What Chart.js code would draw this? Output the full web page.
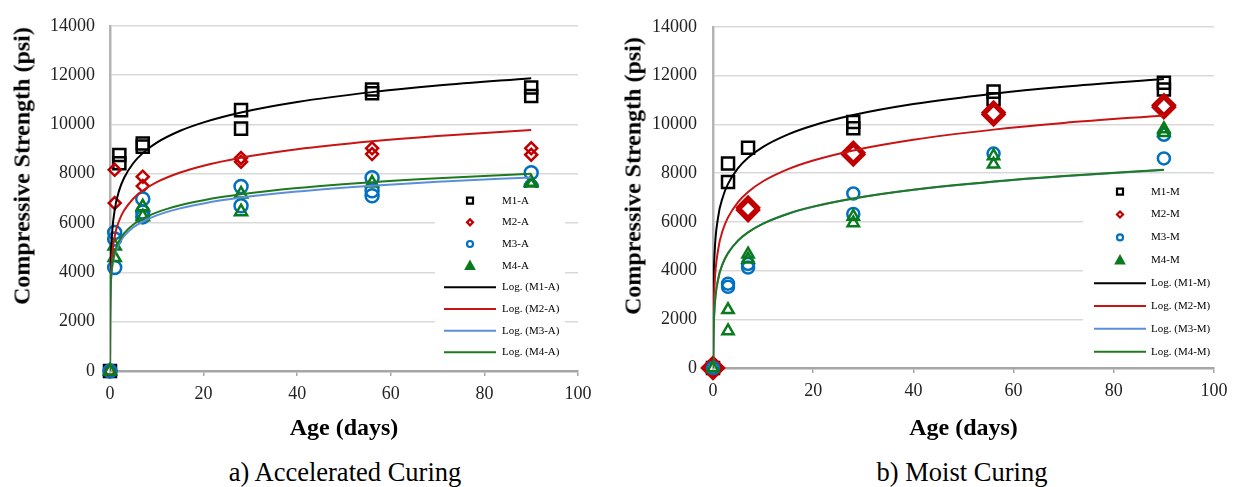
<!DOCTYPE html>
<html>
<head>
<meta charset="utf-8">
<script src="https://cdn.jsdelivr.net/npm/chart.js@4.4.1/dist/chart.umd.min.js"></script>
<style>
  body { margin: 0; background: #fff; }
  #wrap { position: relative; width: 1238px; height: 487px; font-family: 'Liberation Serif', 'Times New Roman', serif; color: #000; }
  canvas { position: absolute; top: 0; }
  .ytitle { position: absolute; transform: translate(-50%, -50%) rotate(-90deg); white-space: nowrap; font-weight: bold; font-size: 24px; }
  .caption { position: absolute; transform: translateX(-50%); white-space: nowrap; font-size: 26.5px; line-height: 30px; top: 457px; }
</style>
</head>
<body>
<div id="wrap">
  <canvas id="chartA" width="605" height="445" style="left:0"></canvas>
  <canvas id="chartM" width="628" height="445" style="left:610px"></canvas>
  <div class="ytitle" style="left:22px; top:166px">Compressive Strength (psi)</div>
  <div class="ytitle" style="left:633px; top:176px">Compressive Strength (psi)</div>
  <div class="caption" style="left:345px">a) Accelerated Curing</div>
  <div class="caption" style="left:962px">b) Moist Curing</div>
</div>
<script>
// ---- accelerated curing: measured points ----
const ageM1A = [0, 2, 2, 7, 7, 28, 28, 56, 56, 90, 90];
const m1A = [0, 8760, 8430, 9230, 9100, 10580, 9830, 11420, 11260, 11500, 11150];
const ageM2A = [0, 1, 1, 7, 7, 28, 28, 56, 56, 90, 90];
const m2A = [0, 8160, 6810, 7880, 7500, 8640, 8490, 9030, 8800, 9030, 8770];
const ageM3A = [0, 1, 1, 1, 7, 7, 7, 28, 28, 56, 56, 56, 90, 90];
const m3A = [0, 5620, 5350, 4200, 6980, 6450, 6250, 7480, 6700, 7840, 7310, 7110, 8040, 7480];
const ageM4A = [0, 1, 1, 7, 7, 28, 28, 56, 90, 90];
const m4A = [0, 5070, 4600, 6660, 6260, 7180, 6460, 7620, 7650, 7540];

// ---- accelerated curing: log trendlines ----
const trendAgeA = [0, 0.005, 0.02, 0.1, 0.3, 1, 2, 3, 5, 7, 10, 15, 20, 28, 40, 56, 70, 90];
const logM1A = [0, 215, 1865, 3779, 5087, 6520, 7345, 7828, 8435, 8836, 9261, 9742, 10085, 10485, 10910, 11310, 11575, 11875];
const logM2A = [0, 364, 1694, 3239, 4294, 5450, 6115, 6505, 6995, 7318, 7661, 8050, 8326, 8649, 8991, 9314, 9528, 9770];
const logM3A = [0, 991, 1962, 3088, 3857, 4700, 5185, 5469, 5827, 6062, 6312, 6596, 6797, 7032, 7282, 7518, 7674, 7850];
const logM4A = [0, 1038, 2022, 3165, 3945, 4800, 5292, 5580, 5942, 6182, 6435, 6723, 6927, 7166, 7419, 7658, 7816, 7995];

// ---- moist curing: measured points ----
const ageM1M = [0, 3, 3, 7, 28, 28, 56, 56, 90, 90];
const m1M = [0, 8390, 7630, 9040, 10090, 9840, 11340, 11030, 11700, 11430];
const ageM2M = [0, 7, 7, 28, 28, 56, 56, 90, 90];
const m2M = [0, 6580, 6480, 8830, 8760, 10480, 10400, 10780, 10700];
const ageM3M = [0, 3, 3, 7, 7, 28, 28, 56, 90, 90];
const m3M = [0, 3460, 3330, 4270, 4120, 7160, 6320, 8800, 9570, 8600];
const ageM4M = [0, 3, 3, 7, 7, 28, 28, 56, 56, 90, 90];
const m4M = [0, 2390, 1520, 4670, 4460, 6220, 5950, 8700, 8360, 9810, 9650];

// ---- moist curing: log trendlines ----
const trendAgeM = [0, 0.03, 0.1, 0.3, 1, 2, 3, 5, 7, 10, 15, 20, 28, 40, 56, 70, 90];
const logM1M = [0, 1727, 3250, 4640, 6163, 7040, 7553, 8199, 8625, 9076, 9589, 9953, 10378, 10829, 11255, 11537, 11856];
const logM2M = [0, 516, 1997, 3349, 4830, 5682, 6182, 6809, 7224, 7663, 8161, 8515, 8928, 9367, 9781, 10055, 10365];
const logM3M = [0, 115, 1319, 2418, 3622, 4315, 4721, 5231, 5568, 5925, 6330, 6618, 6954, 7311, 7647, 7870, 8122];
const logM4M = [0, 85, 1296, 2400, 3610, 4307, 4714, 5227, 5566, 5924, 6332, 6621, 6959, 7317, 7655, 7879, 8132];

const yTicks = [0, 2000, 4000, 6000, 8000, 10000, 12000, 14000];
const xTicks = [0, 20, 40, 60, 80, 100];

const FONT = "'Liberation Serif', 'Times New Roman', serif";
Chart.defaults.font.family = FONT;
Chart.defaults.color = '#222';

const markerCol = ['#000000', '#C00000', '#0070C0', '#0A7A1E'];
const trendCol = ['#000000', '#C81414', '#5B8FD9', '#1F7A1F'];
const shapes = ['rect', 'rectRot', 'circle', 'triangle'];

const pts = (xs, ys) => xs.map((x, i) => ({x: x, y: ys[i]}));

function drawMarker(ctx, shape, color, x, y, r, bw, fill) {
  ctx.beginPath();
  if (shape === 'rect') {
    ctx.rect(x - r, y - r, 2 * r, 2 * r);
  } else if (shape === 'rectRot') {
    ctx.moveTo(x - r, y); ctx.lineTo(x, y - r); ctx.lineTo(x + r, y); ctx.lineTo(x, y + r); ctx.closePath();
  } else if (shape === 'circle') {
    ctx.arc(x, y, r, 0, Math.PI * 2);
  } else {
    ctx.moveTo(x, y - r); ctx.lineTo(x + r, y + r * 0.8); ctx.lineTo(x - r, y + r * 0.8); ctx.closePath();
  }
  ctx.lineWidth = bw;
  ctx.strokeStyle = color;
  if (fill) { ctx.fillStyle = color; ctx.fill(); }
  ctx.stroke();
}

// white-boxed legend inside the plot, like the Excel one
const boxLegend = {
  id: 'boxLegend',
  afterDatasetsDraw(chart, args, o) {
    const names = chart.$names;
    const ctx = chart.ctx;
    ctx.save();
    ctx.fillStyle = '#fff';
    ctx.fillRect(o.box[0], o.box[1], o.box[2], o.box[3]);
    ctx.font = '11px ' + FONT;
    ctx.textBaseline = 'middle';
    names.forEach((n, i) => {
      const y = o.rowTop + i * o.rowStep;
      drawMarker(ctx, shapes[i], markerCol[i], o.markerX, y, shapes[i] === 'triangle' ? 4 : 3, 2.2, shapes[i] === 'triangle');
      ctx.fillStyle = '#000';
      ctx.fillText(n, o.textX, y);
    });
    names.forEach((n, i) => {
      const y = o.rowTop + (i + 4) * o.rowStep;
      ctx.beginPath();
      ctx.moveTo(o.lineX[0], y); ctx.lineTo(o.lineX[1], y);
      ctx.strokeStyle = trendCol[i]; ctx.lineWidth = 2; ctx.stroke();
      ctx.fillStyle = '#000';
      ctx.fillText('Log. (' + n + ')', o.textX, y);
    });
    ctx.restore();
  }
};

function makeChart(id, names, ages, vals, trendAge, trends, cfg) {
  const datasets = [];
  // trendlines on top (lower order draws last), M4 on top of M3
  trends.forEach((t, i) => datasets.push({
    type: 'line', label: 'Log. (' + names[i] + ')', data: pts(trendAge, t),
    borderColor: trendCol[i], borderWidth: 2, pointRadius: 0, fill: false,
    cubicInterpolationMode: 'monotone', order: 3 - i
  }));
  vals.forEach((v, i) => datasets.push({
    type: 'scatter', label: names[i], data: pts(ages[i], v),
    pointStyle: shapes[i], radius: cfg.radius[i], pointBorderWidth: cfg.bw[i],
    borderColor: markerCol[i], backgroundColor: 'rgba(0,0,0,0)', order: 7 - i,
    clip: false
  }));
  const chart = new Chart(document.getElementById(id), {
    type: 'scatter',
    data: {datasets: datasets},
    options: {
      responsive: false, animation: false, devicePixelRatio: 1,
      layout: {padding: {top: cfg.top, right: cfg.right, left: 0, bottom: 0}},
      plugins: {legend: {display: false}, tooltip: {enabled: false}, boxLegend: cfg.legend},
      scales: {
        x: {
          type: 'linear', min: 0, max: 100,
          afterBuildTicks: s => { s.ticks = xTicks.map(v => ({value: v})); },
          afterFit: s => { s.height = cfg.xHeight; },
          grid: {drawOnChartArea: false, drawTicks: true, tickLength: 5, color: '#A6A6A6', lineWidth: 1.5},
          border: {color: '#A6A6A6', width: 2.5},
          ticks: {font: {size: 18}, padding: 7, color: '#222', callback: v => String(v)},
          title: {display: true, text: 'Age (days)', font: {size: 24, weight: 'bold'}, color: '#000', padding: {top: 0, bottom: 2}}
        },
        y: {
          min: 0, max: 14000,
          afterBuildTicks: s => { s.ticks = yTicks.map(v => ({value: v})); },
          afterFit: s => { s.width = cfg.yWidth; },
          grid: {drawTicks: false, color: '#D9D9D9', lineWidth: 1.5},
          border: {color: '#B4B4B4', width: 2.5},
          ticks: {font: {size: 18}, padding: cfg.yPad, color: '#222', callback: v => String(v)}
        }
      }
    },
    plugins: [{id: 'names', beforeInit: c => { c.$names = names; }}, boxLegend]
  });
  return chart;
}

makeChart('chartA', ['M1-A', 'M2-A', 'M3-A', 'M4-A'],
  [ageM1A, ageM2A, ageM3A, ageM4A], [m1A, m2A, m3A, m4A],
  trendAgeA, [logM1A, logM2A, logM3A, logM4A],
  {top: 18, right: 27, xHeight: 74, yWidth: 110, yPad: 15,
   radius: [8.5, 6, 6.5, 7], bw: [2.5, 2.5, 2.5, 2.5],
   legend: {box: [435, 188, 130, 176], markerX: 470, textX: 502, lineX: [444, 496], rowTop: 200.7, rowStep: 21.66}});

makeChart('chartM', ['M1-M', 'M2-M', 'M3-M', 'M4-M'],
  [ageM1M, ageM2M, ageM3M, ageM4M], [m1M, m2M, m3M, m4M],
  trendAgeM, [logM1M, logM2M, logM3M, logM4M],
  {top: 20, right: 24, xHeight: 77, yWidth: 103, yPad: 16,
   radius: [8.5, 10, 6, 6.5], bw: [2.5, 4, 2.5, 2.5],
   legend: {box: [473, 178, 131, 186], markerX: 510, textX: 541, lineX: [484, 536], rowTop: 191.7, rowStep: 22.86}});
</script>
</body>
</html>
